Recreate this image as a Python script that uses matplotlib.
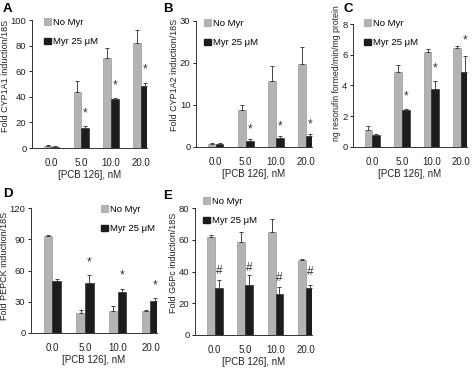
import matplotlib
matplotlib.use("Agg")
import matplotlib.pyplot as plt
import numpy as np
from matplotlib.patches import Patch

plt.rcParams['font.family'] = ['Liberation Sans', 'DejaVu Sans']

concs = ["0.0", "5.0", "10.0", "20.0"]

a_nomyr = [1.5, 44, 70.5, 82]
a_nomyr_err = [0.5, 8, 8, 10]
a_myr = [1.0, 16, 38, 48.5]
a_myr_err = [0.3, 1.5, 1.0, 2.0]
a_marks = ["", "*", "*", "*"]

b_nomyr = [0.8, 8.8, 15.6, 19.7]
b_nomyr_err = [0.1, 1.2, 3.8, 4.2]
b_myr = [0.8, 1.5, 2.2, 2.7]
b_myr_err = [0.1, 0.3, 0.4, 0.4]
b_marks = ["", "*", "*", "*"]

c_nomyr = [1.1, 4.9, 6.15, 6.45]
c_nomyr_err = [0.25, 0.45, 0.25, 0.15]
c_myr = [0.75, 2.4, 3.8, 4.9]
c_myr_err = [0.08, 0.1, 0.5, 1.0]
c_marks = ["", "*", "*", "*"]

d_nomyr = [93, 19, 21, 21]
d_nomyr_err = [1.5, 3, 5, 1]
d_myr = [50, 48, 39, 31]
d_myr_err = [2, 8, 3, 2.5]
d_marks = ["", "*", "*", "*"]

e_nomyr = [61.5, 58.5, 65, 47.5]
e_nomyr_err = [1.5, 6.5, 8, 0.5]
e_myr = [29.5, 31.5, 26, 29.5]
e_myr_err = [5, 6, 4, 2]
e_marks = ["#", "#", "#", "#"]

GRAY = "#b3b3b3"
BLACK = "#1c1c1c"

W, H = 472, 370
fig = plt.figure(figsize=(W / 100, H / 100), dpi=100)


def panel(px, letter, letter_xy, nomyr, nerr, myr, merr, marks, ymax, ystep, ylabel,
          ylabel_size, ylabel_y, mark_y, leg_xy):
    # px = (left, top, right, bottom) in pixels from top-left
    l, t, r, b = px
    rect = [l / W, 1 - b / H, (r - l) / W, (b - t) / H]
    ax = fig.add_axes(rect)
    x = np.arange(len(concs))
    w = 0.26
    ekw = dict(ecolor="#444444", elinewidth=0.7, capsize=1.5, capthick=0.7)
    ax.bar(x - w/2, nomyr, w, color=GRAY, edgecolor="#8a8a8a", linewidth=0.4,
           yerr=[np.zeros(len(nerr)), nerr], error_kw=ekw)
    ax.bar(x + w/2, myr, w, color=BLACK, edgecolor=BLACK, linewidth=0.4,
           yerr=[np.zeros(len(merr)), merr], error_kw=ekw)
    for xi, m, my in zip(x, marks, mark_y):
        if m:
            ax.text(xi + w/2, my, m, ha="center", va="center", fontsize=8.5, color="#333333")
    ax.set_xlim(-0.65, 3.2)
    ax.set_ylim(0, ymax)
    ax.set_yticks(np.arange(0, ymax + ystep/2, ystep))
    ax.set_xticks(x)
    ax.set_xticklabels(concs)
    ax.tick_params(axis="x", length=0, labelsize=7, pad=7, colors="#222222")
    ax.tick_params(axis="y", length=2.5, width=0.7, labelsize=6.8, pad=1.5, colors="#222222")
    for s in ["top", "right"]:
        ax.spines[s].set_visible(False)
    for s in ["left", "bottom"]:
        ax.spines[s].set_linewidth(0.7)
        ax.spines[s].set_color("#333333")
    ax.set_ylabel(ylabel, fontsize=ylabel_size, labelpad=0.5, color="#222222")
    ax.yaxis.label.set_y(ylabel_y)
    ax.set_xlabel("[PCB 126], nM", fontsize=7, labelpad=1.5, color="#222222")
    handles = [Patch(facecolor=GRAY, edgecolor="#8a8a8a", linewidth=0.4),
               Patch(facecolor=BLACK, edgecolor=BLACK)]
    lx, ly = leg_xy
    ax.legend(handles, ["No Myr", "Myr 25 μM"], loc="upper left",
              bbox_to_anchor=((lx - l) / (r - l), (b - ly) / (b - t)),
              frameon=False, fontsize=6.8, handlelength=0.7, handleheight=0.7,
              handletextpad=0.25, labelspacing=1.1, borderaxespad=0, borderpad=0)
    fig.text(letter_xy[0] / W, 1 - letter_xy[1] / H, letter, fontsize=9.5,
             fontweight="bold", va="top", ha="left")
    return ax


panel((32, 20, 147, 148), "A", (3, 3), a_nomyr, a_nomyr_err, a_myr, a_myr_err, a_marks,
      100, 20, "Fold CYP1A1 induction/18S", 6.5, 0.56, [0, 27, 49, 61], (44, 18))
panel((196, 21, 312, 147), "B", (163, 3), b_nomyr, b_nomyr_err, b_myr, b_myr_err, b_marks,
      30, 10, "Fold CYP1A2 induction/18S", 6.5, 0.57, [0, 4.3, 5.0, 5.3], (204, 19))
panel((353, 24, 467, 147), "C", (343, 3), c_nomyr, c_nomyr_err, c_myr, c_myr_err, c_marks,
      8, 2, "ng resorufin formed/min/mg protein", 6.2, 0.6, [0, 3.3, 5.1, 6.9], (364, 19))
panel((31, 208, 157, 333), "D", (3, 188), d_nomyr, d_nomyr_err, d_myr, d_myr_err, d_marks,
      120, 30, "Fold PEPCK induction/18S", 6.5, 0.54, [0, 68, 55, 46], (101, 205))
panel((195, 208, 312, 335), "E", (163, 190), e_nomyr, e_nomyr_err, e_myr, e_myr_err, e_marks,
      80, 20, "Fold G6Pc induction/18S", 6.5, 0.57, [40, 42.5, 36, 39.5], (203, 197))

fig.savefig("out.png", dpi=100)
